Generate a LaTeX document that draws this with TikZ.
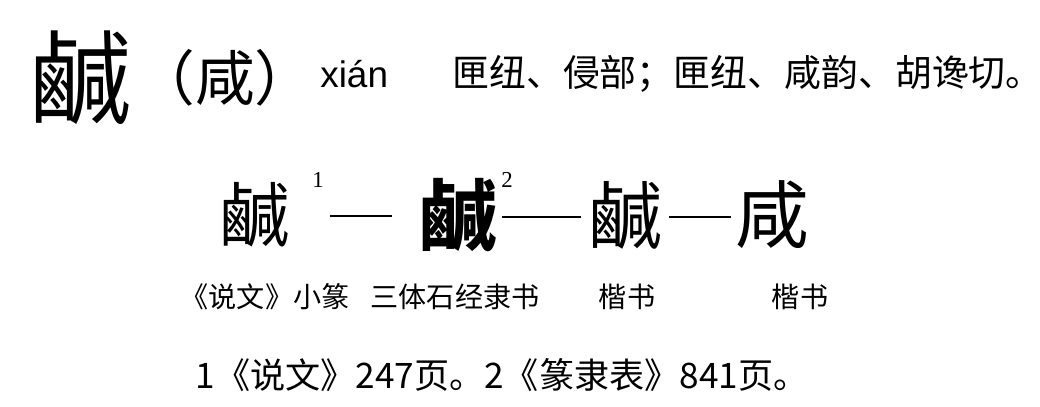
\documentclass[tikz,border=0pt]{standalone}
\usepackage{fontspec}
\setmainfont{Noto Sans CJK SC}
\newfontfamily\latinf{Liberation Sans}
\newfontfamily\serif{Liberation Serif}
\usetikzlibrary{positioning}
\tikzset{
  glyph/.style={inner sep=0pt, font=\fontsize{42}{42}\selectfont},
  lab/.style={inner sep=0pt, font=\fontsize{16}{16}\selectfont},
  link/.style={line width=1pt},
}
\begin{document}
\begin{tikzpicture}[x=0.02cm,y=-0.02cm]
  \useasboundingbox[fill=white] (0,0) rectangle (1040,406);
  % heading line
  \node[inner sep=0pt, font=\fontsize{58}{58}\selectfont] (head) at (80,78) {鹹};
  \node[inner sep=0pt, font=\fontsize{34}{34}\selectfont, anchor=west] (var) at (135,78) {（咸）};
  \node[inner sep=0pt, font=\latinf\fontsize{21}{21}\selectfont, anchor=west] (pin) at (320,74) {xián};
  \node[inner sep=0pt, font=\fontsize{21}{21}\selectfont, anchor=west] (yin) at (452,74) {匣纽、侵部；匣纽、咸韵、胡谗切。};
  % forms
  \node[glyph, font=\fontsize{40}{40}\selectfont] (seal) at (255,215) {鹹};
  \node[lab, font=\serif\fontsize{13}{13}\selectfont] (n1) at (318,180) {1};
  \node[glyph, font=\fontsize{44}{44}\selectfont\bfseries] (li) at (458,215) {鹹};
  \node[lab, font=\serif\fontsize{13}{13}\selectfont] (n2) at (507,180) {2};
  \node[glyph] (kai1) at (625,215) {鹹};
  \node[glyph] (kai2) at (772,215) {咸};
  \draw[link] (330,216) -- (392,216);
  \draw[link] ([xshift=3pt,yshift=-1pt]li.east) -- ([xshift=-4pt,yshift=-1pt]kai1.west);
  \draw[link] ([xshift=4pt,yshift=-1pt]kai1.east) -- ([xshift=-2pt,yshift=-1pt]kai2.west);
  % labels
  \node[lab] (l1) at (265,297) {《说文》小篆};
  \node[lab] (l2) at (455,297) {三体石经隶书};
  \node[lab] (l3) at (627,297) {楷书};
  \node[lab] (l4) at (800,297) {楷书};
  % note
  \node[inner sep=0pt, font=\fontsize{20}{20}\selectfont] (note) at (502,375) {1《说文》247页。2《篆隶表》841页。};
\end{tikzpicture}
\end{document}
